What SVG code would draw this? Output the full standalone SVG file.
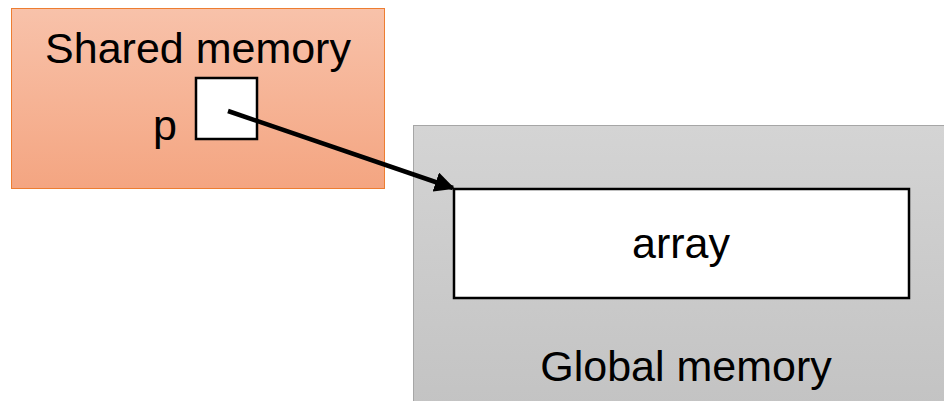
<svg xmlns="http://www.w3.org/2000/svg" width="944" height="401" viewBox="0 0 944 401">
<defs>
<linearGradient id="gShared" x1="0" y1="0" x2="0" y2="1">
<stop offset="0" stop-color="#f8c2aa"/>
<stop offset="1" stop-color="#f4a581"/>
</linearGradient>
<linearGradient id="gGlobal" x1="0" y1="0" x2="0" y2="1">
<stop offset="0" stop-color="#d4d4d4"/>
<stop offset="1" stop-color="#c3c3c3"/>
</linearGradient>
<marker id="arrow" viewBox="0 0 10 10" refX="9" refY="5" markerWidth="4.5" markerHeight="4.5" orient="auto" markerUnits="strokeWidth">
<path d="M0,0 L10,5 L0,10 z" fill="#000"/>
</marker>
<style>
.lbl{font-family:"Liberation Sans",Arial,sans-serif;font-size:43px;fill:#000;text-anchor:middle}
.box{fill:#fff;stroke:#000;stroke-width:2.5}
</style>
</defs>
<rect width="944" height="401" fill="#fff"/>
<g id="shared">
<rect x="11.5" y="8.5" width="373" height="180" fill="url(#gShared)" stroke="#ed7d31" stroke-width="1"/>
<text class="lbl" x="198" y="63">Shared memory</text>
<text class="lbl" x="165" y="140">p</text>
</g>
<g id="p-cell">
<rect class="box" x="196" y="78" width="61" height="61"/>
</g>
<g id="global">
<rect x="413.5" y="125.5" width="532" height="280" fill="url(#gGlobal)" stroke="#a6a6a6" stroke-width="1"/>
<text class="lbl" x="686" y="381">Global memory</text>
</g>
<g id="array">
<rect class="box" x="454" y="189" width="455" height="109"/>
<text class="lbl" x="681" y="258">array</text>
</g>
<g id="connectors">
<line x1="228" y1="111" x2="453" y2="188" stroke="#000" stroke-width="4.5" marker-end="url(#arrow)"/>
</g>
</svg>
